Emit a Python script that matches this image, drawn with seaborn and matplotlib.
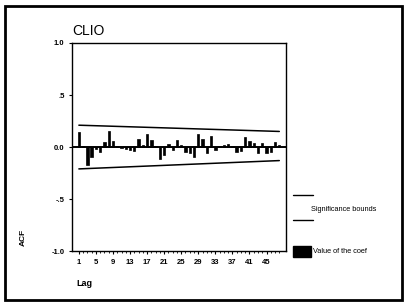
import matplotlib
matplotlib.use("Agg")
import matplotlib.pyplot as plt
import seaborn as sns
import pandas as pd
from matplotlib.lines import Line2D
from matplotlib.patches import Rectangle

# ACF values per lag
lags = list(range(1, 49))
acf = [0.14, 0.01, -0.17, -0.10, -0.02, -0.05, 0.05, 0.155, 0.06, 0.01,
       -0.01, -0.02, -0.03, -0.04, 0.08, 0.02, 0.13, 0.07, 0.01, -0.11,
       -0.08, 0.03, -0.03, 0.07, 0.02, -0.05, -0.06, -0.10, 0.13, 0.08,
       -0.06, 0.11, -0.03, 0.01, 0.02, 0.03, 0.01, -0.05, -0.04, 0.10,
       0.06, 0.04, -0.06, 0.04, -0.06, -0.05, 0.05, 0.02]

# significance bounds (end points)
bound_lags = [1, 48]
upper_bound = [0.21, 0.15]
lower_bound = [-0.21, -0.13]

y_ticks = [-1.0, -0.5, 0.0, 0.5, 1.0]
y_tick_labels = ["-1.0", "-.5", "0.0", ".5", "1.0"]
x_ticks = [1, 5, 9, 13, 17, 21, 25, 29, 33, 37, 41, 45]

sns.set_style("white")
plt.rcParams["font.family"] = ["Liberation Sans", "DejaVu Sans"]
plt.rcParams["text.color"] = "black"
plt.rcParams["xtick.color"] = "black"
plt.rcParams["ytick.color"] = "black"

df = pd.DataFrame({"lag": lags, "acf": acf})

fig = plt.figure(figsize=(4.07, 3.07), dpi=100)
ax = fig.add_axes([0.177, 0.182, 0.526, 0.678])

sns.barplot(data=df, x="lag", y="acf", native_scale=True, color="black",
            width=0.55, saturation=1, edgecolor="black", linewidth=0.5, ax=ax)
ax.axhline(0, color="black", linewidth=1.4)

bounds = pd.DataFrame({"lag": bound_lags * 2,
                       "value": upper_bound + lower_bound,
                       "kind": ["upper", "upper", "lower", "lower"]})
sns.lineplot(data=bounds, x="lag", y="value", units="kind", estimator=None,
             color="black", linewidth=1.1, ax=ax)

ax.set_xlim(-0.6, 49.6)
ax.set_ylim(-1.0, 1.0)
ax.set_yticks(y_ticks)
ax.set_yticklabels(y_tick_labels)
ax.set_xticks(x_ticks)
ax.set_xticks(lags, minor=True)
ax.tick_params(axis="both", which="major", labelsize=5.5, length=2.5, width=0.8,
               direction="out", bottom=True, left=True, pad=3)
ax.tick_params(axis="x", which="minor", length=1.5, width=0.6, bottom=True)
for lbl in ax.get_xticklabels() + ax.get_yticklabels():
    lbl.set_fontweight("bold")
ax.set_xlabel("")
ax.set_ylabel("")
for s in ax.spines.values():
    s.set_color("black")
    s.set_linewidth(1.0)

fig.text(0.177, 0.885, "CLIO", fontsize=10)
fig.text(0.058, 0.225, "ACF", fontsize=6, fontweight="bold", rotation=90,
         ha="center", va="center")
fig.text(0.187, 0.075, "Lag", fontsize=6.5, fontweight="bold", va="center")

# legend drawn by hand like the original
fig.add_artist(Line2D([0.72, 0.77], [0.365, 0.365], color="black", lw=1.0))
fig.add_artist(Line2D([0.72, 0.77], [0.285, 0.285], color="black", lw=1.0))
fig.text(0.765, 0.318, "Significance bounds", fontsize=5.3, va="center")
fig.add_artist(Rectangle((0.72, 0.163), 0.045, 0.035, color="black"))
fig.text(0.768, 0.18, "Value of the coef", fontsize=5.3, va="center")

# scanned page border
fig.add_artist(Rectangle((0.012, 0.022), 0.976, 0.96, fill=False,
                         edgecolor="black", linewidth=2.0))

fig.savefig("out.png", dpi=100)
